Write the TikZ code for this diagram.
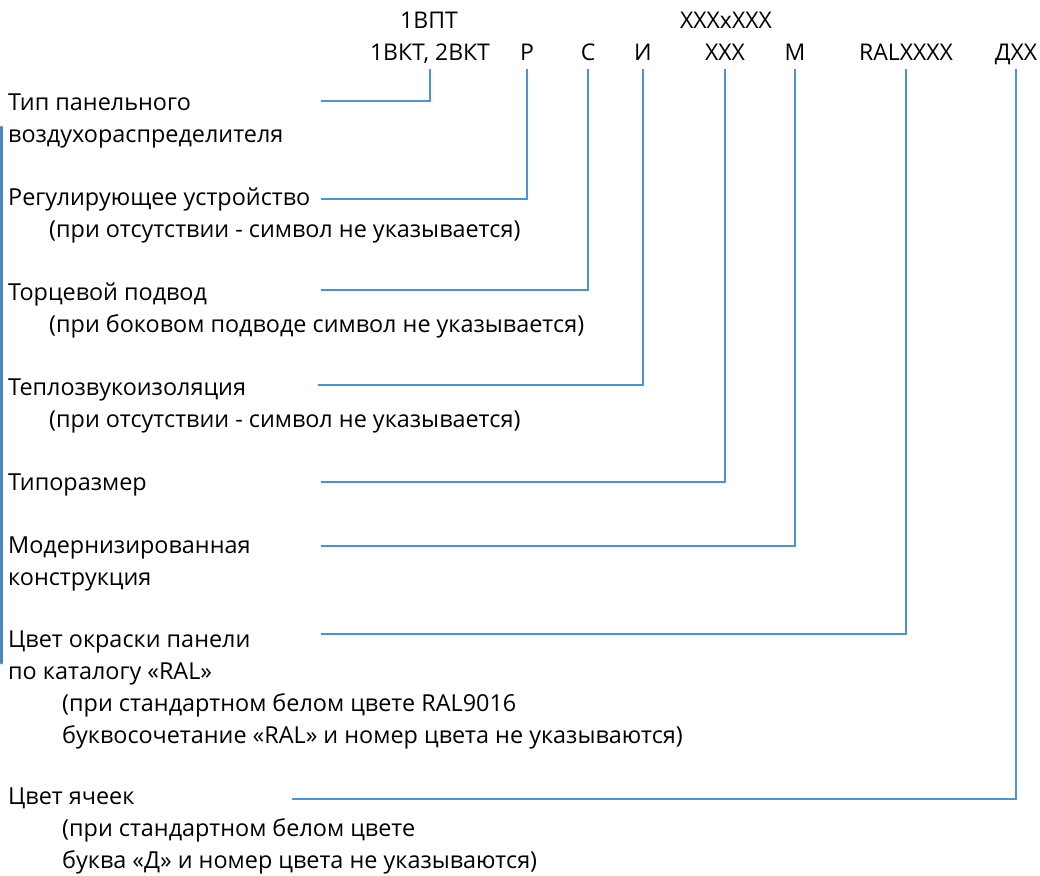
\documentclass[tikz,border=0pt]{standalone}
\usepackage{fontspec}
\setmainfont{Open Sans}
\usetikzlibrary{positioning}
\definecolor{linkblue}{HTML}{4B94D4}
\definecolor{barblue}{HTML}{4A86C2}
\tikzstyle{codebox} = [anchor=base, inner sep=0pt, outer xsep=0pt, outer ysep=9pt, text depth=0pt, font=\fontsize{23}{28}\selectfont]
\tikzstyle{descr} = [anchor=base west, inner sep=0pt, align=left, font=\fontsize{23.4}{32}\selectfont]
\tikzstyle{link} = [draw=linkblue, line width=2.6pt]
\tikzstyle{sidebar} = [draw=barblue, line width=3pt, line cap=round]

\begin{document}
\begin{tikzpicture}[x=1pt, y=-1pt]
	\useasboundingbox (0,0) rectangle (1040,875);

	% designation
	\node [codebox] (cTop1) at (429,29) {1ВПТ};
	\node [codebox] (cTop2) at (726,29) {XXXxXXX};
	\node [codebox] (cType) at (430,60) {1ВКТ, 2ВКТ};
	\node [codebox] (cReg)  at (527,60) {Р};
	\node [codebox] (cEnd)  at (588,60) {С};
	\node [codebox] (cIns)  at (643,60) {И};
	\node [codebox] (cSize) at (725,60) {XXX};
	\node [codebox] (cMod)  at (795,60) {М};
	\node [codebox] (cRal)  at (906,60) {RALXXXX};
	\node [codebox] (cCell) at (1016,60) {ДХХ};

	% descriptions (placed at the baseline of their last line)
	\node [descr] (dType) at (8,142) {Тип панельного\\воздухораспределителя};
	\node [descr] (dReg)  at (8,237) {Регулирующее устройство\\\hspace*{41pt}(при отсутствии - символ не указывается)};
	\node [descr] (dEnd)  at (8,332) {Торцевой подвод\\\hspace*{41pt}(при боковом подводе символ не указывается)};
	\node [descr] (dIns)  at (8,427) {Теплозвукоизоляция\\\hspace*{41pt}(при отсутствии - символ не указывается)};
	\node [descr] (dSize) at (8,490) {Типоразмер};
	\node [descr] (dMod)  at (8,585) {Модернизированная\\конструкция};
	\node [descr] (dRal)  at (8,743) {Цвет окраски панели\\по каталогу «RAL»\\\hspace*{54pt}(при стандартном белом цвете RAL9016\\\hspace*{54pt}буквосочетание «RAL» и номер цвета не указываются)};
	\node [descr] (dCell) at (8,868) {Цвет ячеек\\\hspace*{54pt}(при стандартном белом цвете\\\hspace*{54pt}буква «Д» и номер цвета не указываются)};

	% line starts
	\coordinate (sType) at (321,101);
	\coordinate (sReg)  at (321,199);
	\coordinate (sEnd)  at (321,290);
	\coordinate (sIns)  at (318,385);
	\coordinate (sSize) at (321,482);
	\coordinate (sMod)  at (321,546);
	\coordinate (sRal)  at (321,634);
	\coordinate (sCell) at (292,799);

	% draw edges
	\path [link] (sType) -| (cType.south);
	\path [link] (sReg)  -| (cReg.south);
	\path [link] (sEnd)  -| (cEnd.south);
	\path [link] (sIns)  -| (cIns.south);
	\path [link] (sSize) -| (cSize.south);
	\path [link] (sMod)  -| (cMod.south);
	\path [link] (sRal)  -| (cRal.south);
	\path [link] (sCell) -| (cCell.south);

	\path [sidebar] (1.5,127) -- (1.5,663);
\end{tikzpicture}
\end{document}
